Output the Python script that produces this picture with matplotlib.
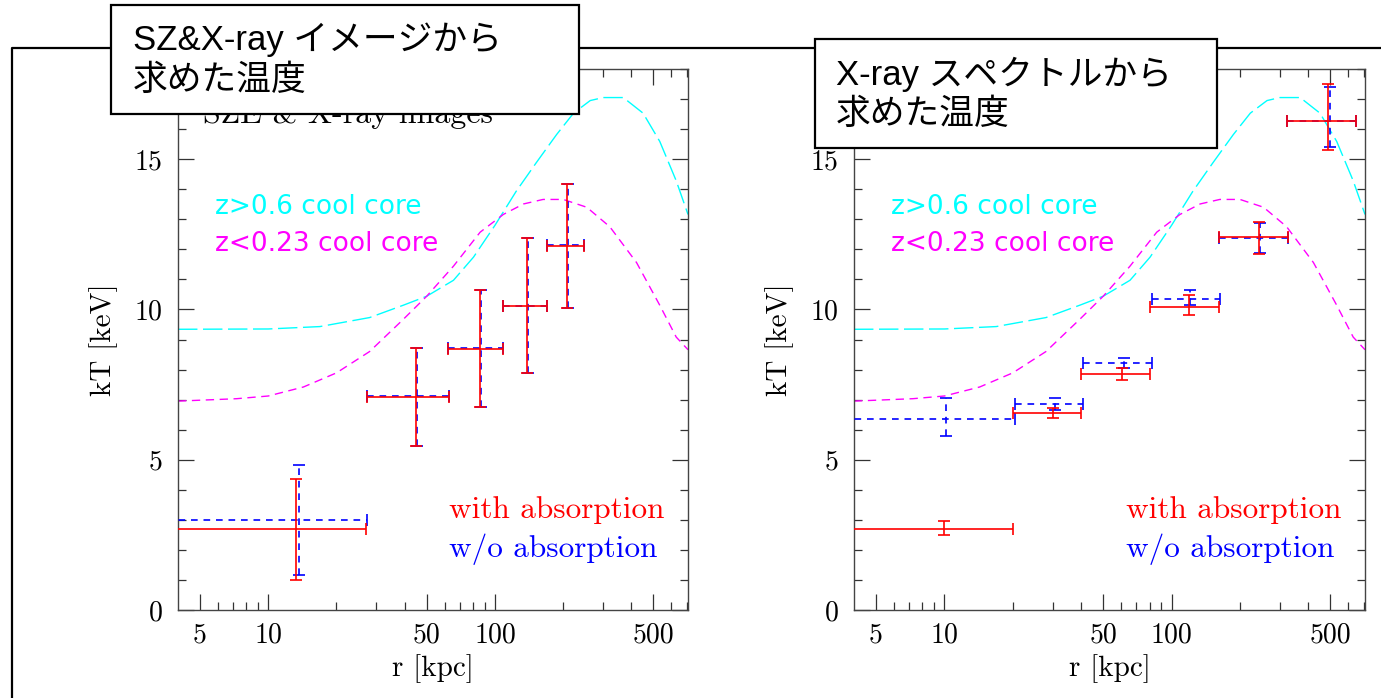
import matplotlib
matplotlib.use("Agg")
import matplotlib.pyplot as plt
from matplotlib.patches import Rectangle
from matplotlib.lines import Line2D
from matplotlib.ticker import FixedLocator, FixedFormatter, NullFormatter

# model temperature profiles (same in both panels)
hot_r = [4, 10, 16.9, 28, 39.4, 50, 65.6, 80.4, 100, 124, 152, 187, 222, 263, 300, 368, 450, 533, 630, 710]
hot_kT = [9.34, 9.35, 9.43, 9.73, 10.14, 10.44, 10.97, 11.74, 12.8, 13.93, 14.88, 15.82, 16.53, 16.95,
          17.05, 17.05, 16.53, 15.59, 14.28, 13.16]
cool_r = [4, 7.25, 10, 14.3, 20, 28, 39.4, 50, 65.6, 86, 108.8, 133.6, 163, 200, 254, 321, 421, 533, 630, 710]
cool_kT = [6.95, 7.03, 7.12, 7.42, 7.89, 8.6, 9.67, 10.44, 11.44, 12.57, 13.16, 13.51, 13.66, 13.66,
           13.4, 12.75, 11.56, 10.14, 9.08, 8.66]

# left panel: SZ & X-ray images
img_red_r = [13.3, 44.7, 85.5, 138, 207]
img_red_rlo = [1, 27.2, 62.2, 109, 169]
img_red_rhi = [27.0, 63, 109, 169, 248]
img_red_kT = [2.7, 7.10, 8.70, 10.11, 12.11]
img_red_lo = [0.99, 5.47, 6.75, 7.87, 10.05]
img_red_hi = [4.37, 8.72, 10.65, 12.37, 14.17]

img_blue_r = [13.6, 45.2, 86.5, 139.5, 209]
img_blue_rlo = [1, 27.2, 62.2, 109, 169]
img_blue_rhi = [27.2, 63, 109, 169, 248]
img_blue_kT = [3.0, 7.12, 8.72, 10.12, 12.13]
img_blue_lo = [1.15, 5.47, 6.75, 7.87, 10.05]
img_blue_hi = [4.84, 8.72, 10.65, 12.37, 14.17]

# right panel: X-ray spectra
spec_red_r = [10.0, 30.2, 60.4, 119.7, 241.5, 487]
spec_red_rlo = [1, 20.0, 40.0, 80.4, 162, 323]
spec_red_rhi = [20.0, 39.9, 80.4, 161, 325, 651]
spec_red_kT = [2.71, 6.57, 7.85, 10.09, 12.40, 16.26]
spec_red_lo = [2.49, 6.38, 7.64, 9.80, 11.83, 15.29]
spec_red_hi = [2.96, 6.73, 8.05, 10.47, 12.90, 17.50]

spec_blue_r = [10.2, 30.6, 61.5, 121, 244, 496]
spec_blue_rlo = [1, 20.4, 40.6, 81.7, 162, 323]
spec_blue_rhi = [20.4, 40.6, 81.7, 164, 325, 651]
spec_blue_kT = [6.36, 6.85, 8.22, 10.36, 12.39, 16.26]
spec_blue_lo = [5.80, 6.65, 8.06, 10.14, 11.88, 15.41]
spec_blue_hi = [7.07, 7.07, 8.40, 10.65, 12.86, 17.40]

xticks_major = [5, 10, 50, 100, 500]
xticks_minor = [6, 7, 8, 9, 20, 30, 40, 60, 70, 80, 90, 200, 300, 400, 600, 700]

titles = ["SZ&X-ray イメージから\n求めた温度", "X-ray スペクトルから\n求めた温度"]

SERIF = "cmr10"
JP = ["Liberation Sans", "Noto Sans CJK JP"]


def errbars(ax, r, rlo, rhi, kT, lo, hi, color, dashed, z):
    xerr = [[a - b for a, b in zip(r, rlo)], [b - a for a, b in zip(r, rhi)]]
    yerr = [[a - b for a, b in zip(kT, lo)], [b - a for a, b in zip(kT, hi)]]
    eb = ax.errorbar(r, kT, xerr=xerr, yerr=yerr, fmt="none", ecolor=color,
                     elinewidth=1.2, capsize=4, capthick=1.2, zorder=z)
    if dashed:
        for lc in eb[2]:
            lc.set_linestyle((0, (4, 3.5)))


def panel(ax, red, blue, top_text=None):
    ax.set_xscale("log")
    ax.plot(hot_r, hot_kT, color="cyan", lw=1.0, dashes=(14, 4), zorder=2)
    ax.plot(cool_r, cool_kT, color="magenta", lw=1.0, dashes=(6, 4), zorder=2)
    errbars(ax, *blue, color="blue", dashed=True, z=3)
    errbars(ax, *red, color="red", dashed=False, z=4)

    ax.set_xlim(4, 710)
    ax.set_ylim(0, 18)
    ax.xaxis.set_major_locator(FixedLocator(xticks_major))
    ax.xaxis.set_major_formatter(FixedFormatter([str(v) for v in xticks_major]))
    ax.xaxis.set_minor_locator(FixedLocator(xticks_minor))
    ax.xaxis.set_minor_formatter(NullFormatter())
    ax.yaxis.set_major_locator(FixedLocator([0, 5, 10, 15]))
    ax.yaxis.set_minor_locator(FixedLocator(range(0, 19)))
    ax.tick_params(which="both", direction="in", top=True, right=True,
                   color="#333333", width=0.9)
    ax.tick_params(which="major", length=11.5)
    ax.tick_params(which="minor", length=5.8)
    ax.tick_params(axis="y", pad=11, labelsize=20)
    ax.tick_params(axis="x", pad=9, labelsize=20)
    for lab in ax.get_xticklabels() + ax.get_yticklabels():
        lab.set_fontfamily(SERIF)
    for s in ax.spines.values():
        s.set_color("#444444")
        s.set_linewidth(1.0)

    ax.set_xlabel("r [kpc]", family=SERIF, fontsize=21, labelpad=4)
    ax.set_ylabel("kT [keV]", family=SERIF, fontsize=21, labelpad=12)

    ax.text(5.8, 13.4, "z>0.6 cool core", color="cyan", fontsize=19,
            family="DejaVu Sans", va="center", ha="left")
    ax.text(5.8, 12.17, "z<0.23 cool core", color="magenta", fontsize=19,
            family="DejaVu Sans", va="center", ha="left")
    ax.text(63, 3.33, "with absorption", color="red", fontsize=22.5,
            family=SERIF, va="center", ha="left")
    ax.text(63, 2.03, "w/o absorption", color="blue", fontsize=22.5,
            family=SERIF, va="center", ha="left")
    if top_text:
        ax.text(5.15, 16.2, top_text, color="black", fontsize=23,
                family=SERIF, va="baseline", ha="left")


fig = plt.figure(figsize=(13.81, 6.98), dpi=100)
W, H = 1381, 698

ax1 = fig.add_axes([178 / W, 1 - 610 / H, 510 / W, 541 / H])
ax2 = fig.add_axes([854 / W, 1 - 610 / H, 511 / W, 541 / H])

panel(ax1,
      (img_red_r, img_red_rlo, img_red_rhi, img_red_kT, img_red_lo, img_red_hi),
      (img_blue_r, img_blue_rlo, img_blue_rhi, img_blue_kT, img_blue_lo, img_blue_hi),
      top_text="SZE & X-ray images")
panel(ax2,
      (spec_red_r, spec_red_rlo, spec_red_rhi, spec_red_kT, spec_red_lo, spec_red_hi),
      (spec_blue_r, spec_blue_rlo, spec_blue_rhi, spec_blue_kT, spec_blue_lo, spec_blue_hi))

# slide frame behind the title boxes
fx, fy = 12 / W, 1 - 48 / H
fig.add_artist(Line2D([fx, fx, 1.01], [-0.01, fy, fy], transform=fig.transFigure,
                      color="black", lw=1.6, zorder=5))

# title boxes
boxes = [(111, 5, 579, 114, 133, 40), (815, 39, 1217, 148, 836, 74)]
for (x0, y0, x1, y1, tx, ty), title in zip(boxes, titles):
    fig.add_artist(Rectangle((x0 / W, 1 - y1 / H), (x1 - x0) / W, (y1 - y0) / H,
                             transform=fig.transFigure, facecolor="white",
                             edgecolor="black", lw=1.6, zorder=10))
    for i, line in enumerate(title.split("\n")):
        fig.text(tx / W, 1 - (ty + 40 * i) / H, line, family=JP, fontsize=25,
                 va="center", ha="left", zorder=11)

fig.savefig("out.png", dpi=100)
